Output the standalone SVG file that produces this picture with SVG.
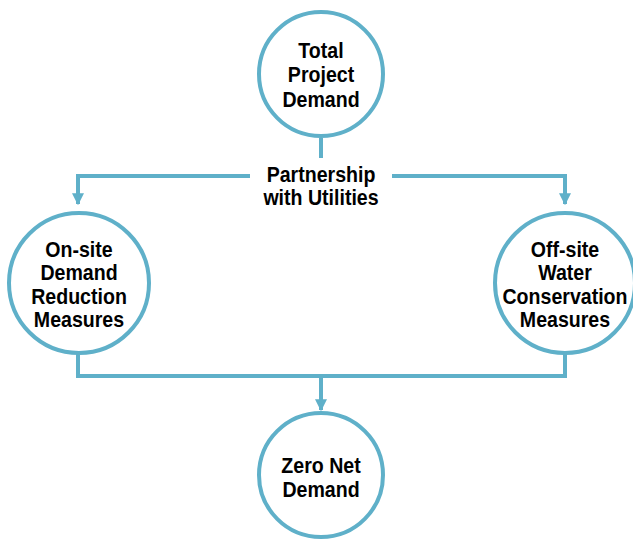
<svg xmlns="http://www.w3.org/2000/svg" width="633" height="539" viewBox="0 0 633 539">
<defs>
<style>
.node{fill:#fff;stroke:#5fb0c9;stroke-width:4}
.con{fill:none;stroke:#5fb0c9;stroke-width:4}
text{font-family:"Liberation Sans",Arial,sans-serif;font-weight:bold;font-size:22px;fill:#000;text-anchor:middle}
</style>
<marker id="ah" viewBox="0 0 10 10" refX="9" refY="5" markerWidth="3" markerHeight="3" orient="auto" markerUnits="strokeWidth">
<path d="M0,0 L10,5 L0,10 Z" fill="#5fb0c9"/>
</marker>
</defs>
<rect width="633" height="539" fill="#fff"/>
<g id="connectors">
<path class="con" d="M321,138 V158"/>
<path class="con" d="M250,176 H78 V204" marker-end="url(#ah)"/>
<path class="con" d="M392,176 H565 V204" marker-end="url(#ah)"/>
<path class="con" d="M78,354 V376 H565 V354"/>
<path class="con" d="M321,376 V410" marker-end="url(#ah)"/>
<g transform="translate(321 0) scale(0.89 1)">
<text x="0" y="182">Partnership</text>
<text x="0" y="205">with Utilities</text>
</g>
</g>
<g id="total">
<circle class="node" cx="321" cy="74" r="62"/>
<g transform="translate(321 0) scale(0.89 1)">
<text x="0" y="58">Total</text>
<text x="0" y="82">Project</text>
<text x="0" y="107">Demand</text>
</g>
</g>
<g id="onsite">
<circle class="node" cx="79" cy="283" r="70"/>
<g transform="translate(79 0) scale(0.89 1)">
<text x="0" y="257">On-site</text>
<text x="0" y="280">Demand</text>
<text x="0" y="304">Reduction</text>
<text x="0" y="327">Measures</text>
</g>
</g>
<g id="offsite">
<circle class="node" cx="565" cy="283" r="70"/>
<g transform="translate(565 0) scale(0.89 1)">
<text x="0" y="257">Off-site</text>
<text x="0" y="280">Water</text>
<text x="0" y="304">Conservation</text>
<text x="0" y="327">Measures</text>
</g>
</g>
<g id="zero">
<circle class="node" cx="321" cy="475" r="62"/>
<g transform="translate(321 0) scale(0.89 1)">
<text x="0" y="473">Zero Net</text>
<text x="0" y="497">Demand</text>
</g>
</g>
</svg>
